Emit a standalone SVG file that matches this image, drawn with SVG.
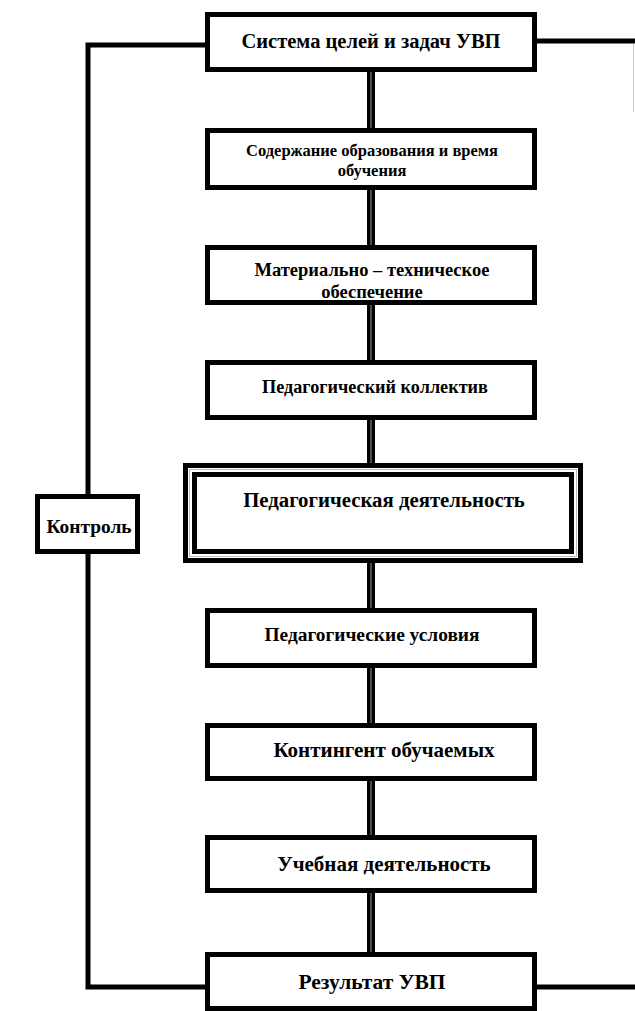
<svg xmlns="http://www.w3.org/2000/svg" width="635" height="1011" viewBox="0 0 635 1011">
<style>
.box{fill:#fff;stroke:#000;stroke-width:5}
.t{font-family:"Liberation Serif","Times New Roman",serif;font-weight:bold;fill:#000;text-anchor:middle}
.c{fill:none;stroke:#000;stroke-width:5}
</style>
<rect width="635" height="1011" fill="#fff"/>
<g id="connectors">
<path class="c" d="M205 45 H88 V987 H205"/>
<path class="c" d="M537 41 H635"/>
<path class="c" d="M537 987 H635"/>
<line x1="633.5" y1="44" x2="633.5" y2="112" stroke="#ccc" stroke-width="1"/>
<line x1="371" y1="72" x2="371" y2="952" stroke="#000" stroke-width="8"/>
<line x1="371" y1="72" x2="371" y2="952" stroke="#999" stroke-width="1"/>
</g>
<g id="n1"><rect class="box" x="207.5" y="14.5" width="327" height="55"/><text class="t" x="371" y="48" font-size="20.5">Система целей и задач  УВП</text></g>
<g id="n2"><rect class="box" x="207.5" y="130.5" width="327" height="57"/><text class="t" x="372" y="156" font-size="16.5">Содержание образования и время</text><text class="t" x="372" y="176" font-size="16.5">обучения</text></g>
<g id="n3"><rect class="box" x="207.5" y="247.5" width="327" height="55"/><text class="t" x="372" y="276" font-size="18.5">Материально – техническое</text><text class="t" x="372" y="298" font-size="18.5">обеспечение</text></g>
<g id="n4"><rect class="box" x="207.5" y="362.5" width="327" height="55"/><text class="t" x="375" y="393" font-size="18.2">Педагогический коллектив</text></g>
<g id="n5"><rect class="box" x="185.5" y="465.5" width="395" height="95"/><rect x="189.5" y="469.5" width="387" height="87" fill="none" stroke="#bbb" stroke-width="1"/><rect class="box" x="194.5" y="474.5" width="377" height="77"/><text class="t" x="384" y="507" font-size="20.8">Педагогическая деятельность</text></g>
<g id="n6"><rect class="box" x="37.5" y="496.5" width="100" height="55"/><text class="t" x="89" y="533" font-size="19.4">Контроль</text></g>
<g id="n7"><rect class="box" x="207.5" y="610.5" width="327" height="55"/><text class="t" x="372" y="641" font-size="19.4">Педагогические условия</text></g>
<g id="n8"><rect class="box" x="207.5" y="725.5" width="327" height="53"/><text class="t" x="384" y="757" font-size="21">Контингент обучаемых</text></g>
<g id="n9"><rect class="box" x="207.5" y="837.5" width="327" height="53"/><text class="t" x="384" y="871" font-size="21">Учебная деятельность</text></g>
<g id="n10"><rect class="box" x="207.5" y="954.5" width="327" height="54"/><text class="t" x="372" y="989" font-size="21.5">Результат УВП</text></g>
</svg>
